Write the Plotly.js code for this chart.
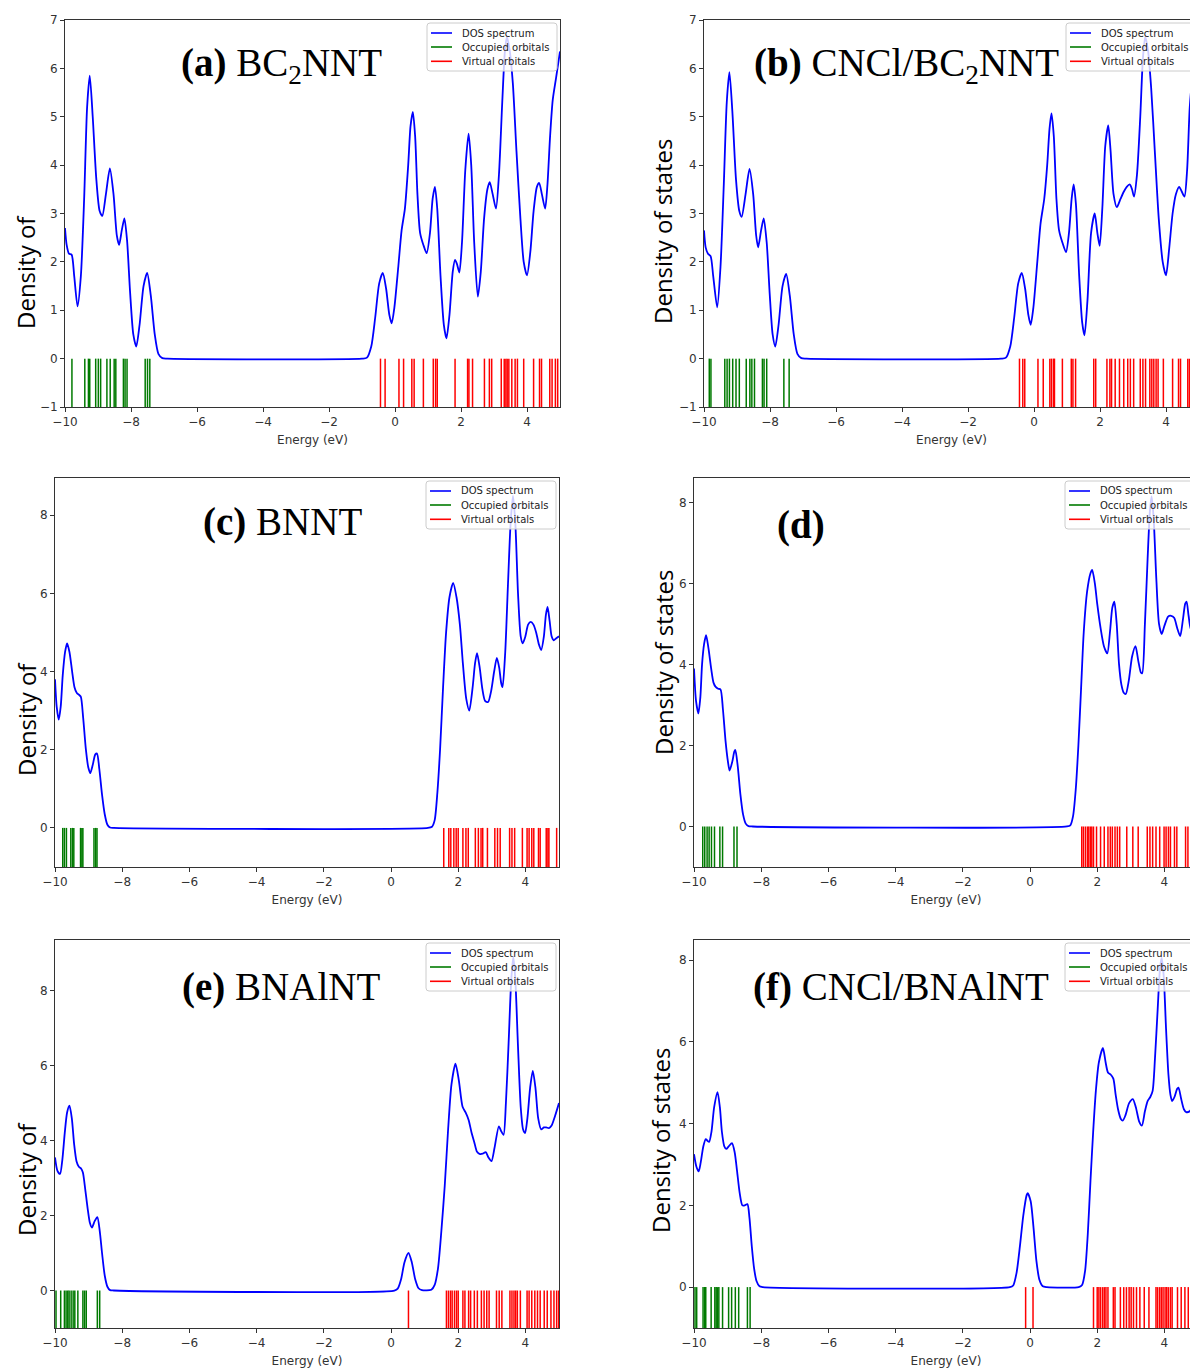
<!DOCTYPE html>
<html><head><meta charset="utf-8">
<script src="https://cdn.plot.ly/plotly-3.0.1.min.js"></script>
<style>
html,body{margin:0;padding:0;overflow:hidden;background:#fff;width:1190px;height:1369px}
#plot{width:1215px;height:1369px}
</style>
</head><body><div id="plot"></div>
<script>
// ---------- DATA ----------
const energyA = [-10.00,-9.95,-9.88,-9.80,-9.72,-9.62,-9.52,-9.42,-9.33,-9.25,-9.16,-9.05,-8.95,-8.87,-8.76,-8.64,-8.53,-8.43,-8.36,-8.28,-8.20,-8.12,-8.03,-7.93,-7.84,-7.74,-7.62,-7.51,-7.40,-7.28,-7.17,-7.05,-6.90,-1.00,-0.85,-0.72,-0.60,-0.48,-0.37,-0.27,-0.17,-0.10,-0.02,0.10,0.20,0.30,0.40,0.47,0.54,0.61,0.68,0.76,0.86,0.96,1.06,1.14,1.21,1.28,1.38,1.48,1.56,1.65,1.75,1.82,1.88,1.95,2.03,2.13,2.23,2.31,2.40,2.51,2.60,2.70,2.80,2.87,2.96,3.06,3.15,3.25,3.33,3.39,3.47,3.57,3.68,3.80,3.90,4.00,4.10,4.20,4.30,4.37,4.45,4.55,4.62,4.70,4.78,4.88,5.00];
const dosA    = [2.70,2.35,2.17,2.15,1.70,1.08,1.70,3.30,5.20,5.85,5.00,3.70,3.05,2.95,3.40,3.93,3.40,2.55,2.35,2.65,2.90,2.45,1.40,0.50,0.25,0.70,1.50,1.77,1.30,0.50,0.10,0.01,0.00,0.00,0.02,0.25,0.85,1.55,1.77,1.45,0.90,0.73,1.05,1.90,2.65,3.10,4.00,4.80,5.10,4.60,3.40,2.60,2.35,2.18,2.60,3.30,3.55,3.10,1.70,0.70,0.42,0.90,1.80,2.04,1.95,1.78,2.40,3.90,4.65,4.00,2.40,1.28,1.80,2.90,3.50,3.65,3.40,3.10,3.80,5.30,6.35,6.65,6.40,5.70,4.30,2.90,2.00,1.72,2.20,3.05,3.55,3.63,3.40,3.10,3.60,4.60,5.35,5.80,6.35];
const occA = [-9.79,-9.40,-9.29,-9.25,-9.07,-8.99,-8.92,-8.73,-8.63,-8.51,-8.46,-8.23,-8.18,-8.12,-7.57,-7.50,-7.43];
const virA = [-0.44,-0.30,0.12,0.26,0.51,0.58,0.86,1.16,1.23,1.28,1.82,2.20,2.24,2.35,2.71,2.86,2.93,3.22,3.31,3.36,3.40,3.45,3.54,3.64,3.71,3.90,4.20,4.38,4.44,4.69,4.76,4.86,4.93];

const energyB = [-10.00,-9.95,-9.88,-9.80,-9.72,-9.60,-9.50,-9.40,-9.31,-9.23,-9.14,-9.03,-8.93,-8.86,-8.74,-8.62,-8.51,-8.42,-8.36,-8.27,-8.19,-8.10,-8.01,-7.92,-7.84,-7.74,-7.62,-7.51,-7.40,-7.28,-7.17,-7.05,-6.90,-1.00,-0.85,-0.72,-0.60,-0.48,-0.37,-0.27,-0.17,-0.10,-0.02,0.10,0.20,0.31,0.40,0.47,0.53,0.60,0.68,0.76,0.86,0.97,1.06,1.14,1.20,1.27,1.37,1.46,1.53,1.62,1.73,1.84,1.92,1.99,2.07,2.16,2.25,2.32,2.41,2.51,2.62,2.72,2.81,2.90,2.97,3.03,3.12,3.22,3.30,3.37,3.45,3.55,3.66,3.78,3.90,4.00,4.10,4.20,4.30,4.40,4.48,4.56,4.64,4.72,4.80,4.90,5.00];
const dosB    = [2.65,2.30,2.17,2.12,1.70,1.06,1.90,3.60,5.30,5.92,5.10,3.70,3.05,2.93,3.40,3.92,3.40,2.55,2.30,2.65,2.90,2.40,1.35,0.50,0.25,0.70,1.50,1.75,1.30,0.50,0.10,0.01,0.00,0.00,0.02,0.25,0.85,1.55,1.77,1.45,0.90,0.70,1.05,2.00,2.80,3.30,4.00,4.75,5.07,4.60,3.30,2.65,2.40,2.20,2.60,3.30,3.60,3.20,1.70,0.75,0.48,1.20,2.60,3.00,2.60,2.33,3.10,4.40,4.82,4.30,3.40,3.13,3.30,3.45,3.55,3.60,3.50,3.35,3.80,5.00,6.20,6.65,6.40,5.60,4.30,2.90,2.00,1.72,2.30,3.00,3.40,3.55,3.45,3.35,3.90,5.20,5.80,6.20,6.40];
const occB = [-9.84,-9.79,-9.37,-9.30,-9.23,-9.13,-9.03,-8.93,-8.72,-8.61,-8.55,-8.47,-8.23,-8.18,-8.10,-7.58,-7.42];
const virB = [-0.44,-0.34,-0.28,0.12,0.28,0.48,0.53,0.59,0.62,0.86,1.13,1.18,1.26,1.81,1.87,2.21,2.30,2.35,2.46,2.59,2.72,2.84,2.92,3.02,3.22,3.30,3.38,3.51,3.57,3.63,3.70,3.76,3.92,4.20,4.38,4.44,4.66,4.71,4.80,4.90];

const energyC = [-10.00,-9.95,-9.89,-9.83,-9.77,-9.70,-9.64,-9.57,-9.49,-9.42,-9.35,-9.28,-9.23,-9.16,-9.08,-9.01,-8.95,-8.88,-8.80,-8.75,-8.68,-8.60,-8.52,-8.44,-8.36,-8.25,1.10,1.22,1.30,1.38,1.46,1.55,1.64,1.74,1.85,1.95,2.05,2.14,2.24,2.33,2.43,2.50,2.56,2.64,2.72,2.80,2.89,2.98,3.07,3.15,3.22,3.28,3.32,3.40,3.48,3.56,3.63,3.70,3.78,3.86,3.92,4.00,4.08,4.16,4.24,4.32,4.40,4.47,4.55,4.61,4.66,4.72,4.78,4.84,4.92,5.00];
const dosC    = [3.80,3.10,2.77,3.10,3.90,4.50,4.72,4.50,4.00,3.60,3.45,3.40,3.35,2.80,2.00,1.55,1.40,1.60,1.88,1.90,1.50,0.85,0.35,0.08,0.01,0.00,0.00,0.03,0.20,0.90,2.00,3.60,5.00,5.90,6.27,5.90,5.20,4.20,3.30,3.00,3.60,4.20,4.47,4.10,3.55,3.25,3.22,3.50,4.00,4.35,4.10,3.70,3.60,4.50,6.20,7.80,8.50,7.80,6.00,4.90,4.72,4.90,5.20,5.27,5.20,5.00,4.70,4.55,4.90,5.45,5.65,5.30,4.90,4.80,4.85,4.90];
const occC = [-9.77,-9.72,-9.66,-9.53,-9.48,-9.44,-9.24,-9.20,-9.17,-8.84,-8.79,-8.75];
const virC = [1.57,1.72,1.78,1.87,1.94,2.00,2.14,2.23,2.30,2.51,2.60,2.68,2.73,2.87,3.09,3.17,3.25,3.53,3.60,3.68,3.91,4.05,4.11,4.19,4.25,4.39,4.44,4.62,4.67,4.70,4.93];

const energyD = [-10.00,-9.94,-9.87,-9.81,-9.76,-9.70,-9.64,-9.57,-9.49,-9.42,-9.36,-9.28,-9.21,-9.14,-9.06,-8.99,-8.94,-8.86,-8.80,-8.77,-8.70,-8.62,-8.54,-8.46,-8.38,-8.25,1.10,1.20,1.28,1.36,1.44,1.52,1.60,1.70,1.80,1.85,1.93,2.00,2.10,2.20,2.30,2.38,2.45,2.51,2.58,2.65,2.72,2.79,2.85,2.94,3.04,3.14,3.22,3.30,3.34,3.42,3.50,3.57,3.62,3.68,3.76,3.84,3.92,4.00,4.11,4.20,4.29,4.38,4.47,4.55,4.62,4.66,4.72,4.80,4.90,5.00];
const dosD    = [3.90,3.10,2.79,3.20,4.00,4.50,4.72,4.40,3.90,3.55,3.45,3.40,3.38,2.90,2.10,1.60,1.38,1.60,1.85,1.89,1.50,0.80,0.30,0.07,0.01,0.00,0.00,0.03,0.25,0.90,2.00,3.40,4.80,5.80,6.25,6.33,6.00,5.50,4.90,4.45,4.27,4.80,5.40,5.55,5.00,4.00,3.50,3.30,3.27,3.60,4.20,4.45,4.10,3.80,3.78,5.00,6.60,7.80,8.15,7.60,6.10,5.00,4.75,4.95,5.18,5.20,5.15,4.90,4.70,5.10,5.50,5.55,5.20,4.85,4.85,4.95];
const occD = [-9.74,-9.68,-9.61,-9.55,-9.48,-9.39,-9.23,-9.15,-8.81,-8.72];
const virD = [1.54,1.59,1.65,1.71,1.75,1.80,1.84,1.89,1.98,2.10,2.21,2.32,2.39,2.45,2.53,2.60,2.67,2.88,3.06,3.22,3.49,3.57,3.65,3.75,3.86,3.99,4.05,4.12,4.18,4.30,4.37,4.63,4.70,4.80,4.90];

const energyE = [-10.00,-9.93,-9.85,-9.78,-9.71,-9.64,-9.57,-9.50,-9.43,-9.36,-9.29,-9.22,-9.17,-9.10,-9.03,-8.96,-8.90,-8.82,-8.74,-8.67,-8.60,-8.52,-8.44,-8.36,-8.25,0.10,0.20,0.30,0.40,0.52,0.62,0.72,0.82,0.92,1.20,1.30,1.40,1.50,1.60,1.70,1.80,1.92,2.02,2.13,2.22,2.31,2.40,2.48,2.56,2.65,2.73,2.82,2.90,2.99,3.08,3.21,3.28,3.35,3.42,3.50,3.58,3.64,3.70,3.78,3.86,3.93,3.99,4.06,4.14,4.22,4.30,4.38,4.47,4.55,4.62,4.70,4.78,4.88,5.00];
const dosE    = [3.55,3.20,3.11,3.50,4.20,4.75,4.93,4.60,3.90,3.45,3.30,3.25,3.15,2.70,2.20,1.80,1.68,1.85,1.96,1.60,1.00,0.40,0.10,0.01,0.00,0.00,0.05,0.30,0.75,1.00,0.75,0.30,0.06,0.01,0.02,0.15,0.60,1.60,2.80,4.30,5.50,6.05,5.60,4.90,4.75,4.55,4.20,3.95,3.70,3.64,3.65,3.69,3.55,3.45,3.80,4.38,4.25,4.15,5.00,6.60,8.30,8.90,8.30,6.50,4.90,4.30,4.20,4.60,5.40,5.86,5.40,4.60,4.30,4.35,4.35,4.33,4.40,4.65,5.00];
const occE = [-9.97,-9.83,-9.72,-9.67,-9.62,-9.58,-9.52,-9.46,-9.41,-9.32,-9.17,-9.12,-9.07,-8.74,-8.67];
const virE = [0.52,1.65,1.71,1.77,1.82,1.89,1.95,2.00,2.14,2.20,2.31,2.37,2.48,2.57,2.69,2.77,2.85,2.92,3.14,3.22,3.30,3.54,3.60,3.66,3.71,3.76,3.85,4.05,4.11,4.19,4.28,4.36,4.44,4.56,4.65,4.76,4.85,4.93,4.99];

const energyF = [-10.00,-9.93,-9.86,-9.80,-9.72,-9.65,-9.60,-9.55,-9.48,-9.40,-9.30,-9.23,-9.17,-9.10,-9.04,-8.96,-8.87,-8.79,-8.72,-8.64,-8.56,-8.49,-8.41,-8.35,-8.28,-8.21,-8.14,-8.05,-7.95,-0.60,-0.50,-0.40,-0.30,-0.20,-0.10,-0.07,0.02,0.10,0.19,0.28,0.38,0.50,1.45,1.55,1.64,1.72,1.80,1.88,1.96,2.05,2.17,2.25,2.32,2.40,2.48,2.55,2.62,2.70,2.76,2.84,2.95,3.06,3.15,3.25,3.33,3.42,3.50,3.58,3.65,3.72,3.80,3.87,3.92,3.98,4.05,4.12,4.18,4.23,4.30,4.38,4.42,4.50,4.58,4.65,4.75,4.88,5.00];
const dosF    = [3.25,2.95,2.83,3.05,3.45,3.62,3.58,3.55,3.80,4.40,4.77,4.40,3.80,3.45,3.38,3.45,3.52,3.30,2.85,2.30,2.00,2.00,2.03,1.70,1.00,0.45,0.15,0.02,0.00,0.00,0.04,0.35,1.00,1.75,2.25,2.30,2.10,1.50,0.65,0.18,0.02,0.00,0.00,0.05,0.40,1.30,2.60,3.80,4.80,5.50,5.85,5.50,5.25,5.20,5.10,4.70,4.35,4.12,4.07,4.20,4.50,4.60,4.40,4.05,3.95,4.30,4.55,4.65,4.80,5.60,6.80,7.80,8.05,7.60,6.30,5.20,4.70,4.55,4.65,4.85,4.88,4.60,4.35,4.28,4.30,4.45,4.55];
const occF = [-9.97,-9.92,-9.73,-9.68,-9.65,-9.49,-9.38,-9.34,-9.30,-9.26,-9.15,-8.97,-8.88,-8.77,-8.67,-8.41,-8.33];
const virF = [-0.13,0.09,1.89,2.00,2.05,2.10,2.16,2.21,2.26,2.32,2.48,2.53,2.69,2.79,2.87,2.95,3.01,3.08,3.17,3.27,3.40,3.54,3.75,3.80,3.86,3.91,3.96,4.02,4.07,4.12,4.18,4.23,4.39,4.50,4.61,4.71,4.80,4.90];

const panelTitles = ['<b>(a)</b> BC<sub>2</sub>NNT','<b>(b)</b> CNCl/BC<sub>2</sub>NNT','<b>(c)</b> BNNT','<b>(d)</b>','<b>(e)</b> BNAlNT','<b>(f)</b> CNCl/BNAlNT'];
const yLabels = ['Density of','Density of states','Density of','Density of states','Density of','Density of states'];
const seriesNames = ['DOS spectrum','Occupied orbitals','Virtual orbitals'];
const seriesColors = ['#0000ff','#007a00','#ff0000'];
const xTitle = 'Energy (eV)';

// ---------- LAYOUT ----------
const W = 1215, H = 1369;
const geom = [
  {l:65,  r:560,  t:20,  b:407,  yr:[-1,7],    dt:1, tx:281, ty:66,  lx:26,  ly:272},
  {l:704, r:1199, t:20,  b:407,  yr:[-1,7],    dt:1, tx:906, ty:66,  lx:663, ly:232},
  {l:55,  r:559,  t:478, b:867,  yr:[-1,8.95], dt:2, tx:282, ty:522, lx:26,  ly:719},
  {l:694, r:1198, t:478, b:867,  yr:[-1,8.6],  dt:2, tx:801, ty:525, lx:663, ly:663},
  {l:55,  r:559,  t:940, b:1328, yr:[-1,9.35], dt:2, tx:281, ty:987, lx:26,  ly:1179},
  {l:694, r:1198, t:940, b:1328, yr:[-1,8.49], dt:2, tx:901, ty:987, lx:660, ly:1141}
];
const sets = [
  [energyA,dosA,occA,virA],[energyB,dosB,occB,virB],[energyC,dosC,occC,virC],
  [energyD,dosD,occD,virD],[energyE,dosE,occE,virE],[energyF,dosF,occF,virF]
];

function sticks(arr){
  const x=[],y=[];
  arr.forEach(e=>{x.push(e,e,null);y.push(-1,0,null);});
  return {x,y};
}
const PX = v => v/W, PY = v => 1 - v/H;

const traces=[];
const layout={width:W,height:H,margin:{l:0,r:0,t:0,b:0},paper_bgcolor:'#fff',plot_bgcolor:'#fff',showlegend:false,annotations:[],shapes:[]};
const tickfont={family:'DejaVu Sans',size:12,color:'#333'};

geom.forEach((g,i)=>{
  const n=i+1, sfx = n===1?'':String(n);
  const xa='x'+sfx, ya='y'+sfx;
  const [en,dos,occ,vir]=sets[i];
  const so=sticks(occ), sv=sticks(vir);
  traces.push({type:'scatter',mode:'lines',x:en,y:dos,name:seriesNames[0],xaxis:xa,yaxis:ya,
    line:{color:seriesColors[0],width:1.8,shape:'spline',smoothing:0.7},hoverinfo:'skip'});
  traces.push({type:'scatter',mode:'lines',x:so.x,y:so.y,name:seriesNames[1],xaxis:xa,yaxis:ya,
    line:{color:seriesColors[1],width:1.5},connectgaps:false,hoverinfo:'skip'});
  traces.push({type:'scatter',mode:'lines',x:sv.x,y:sv.y,name:seriesNames[2],xaxis:xa,yaxis:ya,
    line:{color:seriesColors[2],width:1.5},connectgaps:false,hoverinfo:'skip'});
  const common={showline:true,linecolor:'#333',linewidth:1,mirror:true,ticks:'outside',ticklen:4,tickwidth:1,tickcolor:'#333',
    showgrid:false,zeroline:false,tickfont:tickfont,automargin:false,fixedrange:true};
  layout['xaxis'+sfx]=Object.assign({},common,{domain:[g.l/W,g.r/W],anchor:ya,range:[-10,5],tick0:-10,dtick:2,
    title:{text:xTitle,font:{family:'DejaVu Sans',size:12,color:'#333'},standoff:7}});
  layout['yaxis'+sfx]=Object.assign({},common,{domain:[1-g.b/H,1-g.t/H],anchor:xa,range:g.yr,tick0:0,dtick:g.dt});

  // legend box (matplotlib-style, drawn in paper coordinates)
  const bR=g.r-3, bL=bR-130, bT=g.t+3, bB=bT+48, rr=3;
  const path = `M${PX(bL+rr)},${PY(bT)} L${PX(bR-rr)},${PY(bT)} Q${PX(bR)},${PY(bT)} ${PX(bR)},${PY(bT+rr)} `+
    `L${PX(bR)},${PY(bB-rr)} Q${PX(bR)},${PY(bB)} ${PX(bR-rr)},${PY(bB)} L${PX(bL+rr)},${PY(bB)} `+
    `Q${PX(bL)},${PY(bB)} ${PX(bL)},${PY(bB-rr)} L${PX(bL)},${PY(bT+rr)} Q${PX(bL)},${PY(bT)} ${PX(bL+rr)},${PY(bT)} Z`;
  layout.shapes.push({type:'path',xref:'paper',yref:'paper',path:path,layer:'above',
    fillcolor:'rgba(255,255,255,0.8)',line:{color:'#cccccc',width:1}});
  [10,24,38.3].forEach((dy,k)=>{
    layout.shapes.push({type:'line',xref:'paper',yref:'paper',layer:'above',
      x0:PX(bL+4),x1:PX(bL+25),y0:PY(bT+dy),y1:PY(bT+dy),line:{color:seriesColors[k],width:1.6}});
    layout.annotations.push({xref:'paper',yref:'paper',x:PX(bL+33),y:PY(bT+dy),xanchor:'left',yanchor:'middle',
      showarrow:false,text:seriesNames[k],font:{family:'DejaVu Sans',size:10,color:'#222'}});
  });

  layout.annotations.push({xref:'paper',yref:'paper',x:g.tx/W,y:1-g.ty/H,xanchor:'center',yanchor:'middle',showarrow:false,
    text:panelTitles[i],font:{family:'Liberation Serif, Times New Roman, serif',size:39,color:'#000'}});
  layout.annotations.push({xref:'paper',yref:'paper',x:g.lx/W,y:1-g.ly/H,xanchor:'center',yanchor:'middle',showarrow:false,
    text:yLabels[i],textangle:-90,font:{family:'Open Sans, sans-serif',size:24,color:'#000'}});
});

Plotly.newPlot('plot',traces,layout,{staticPlot:true,displayModeBar:false});
</script>
</body></html>
